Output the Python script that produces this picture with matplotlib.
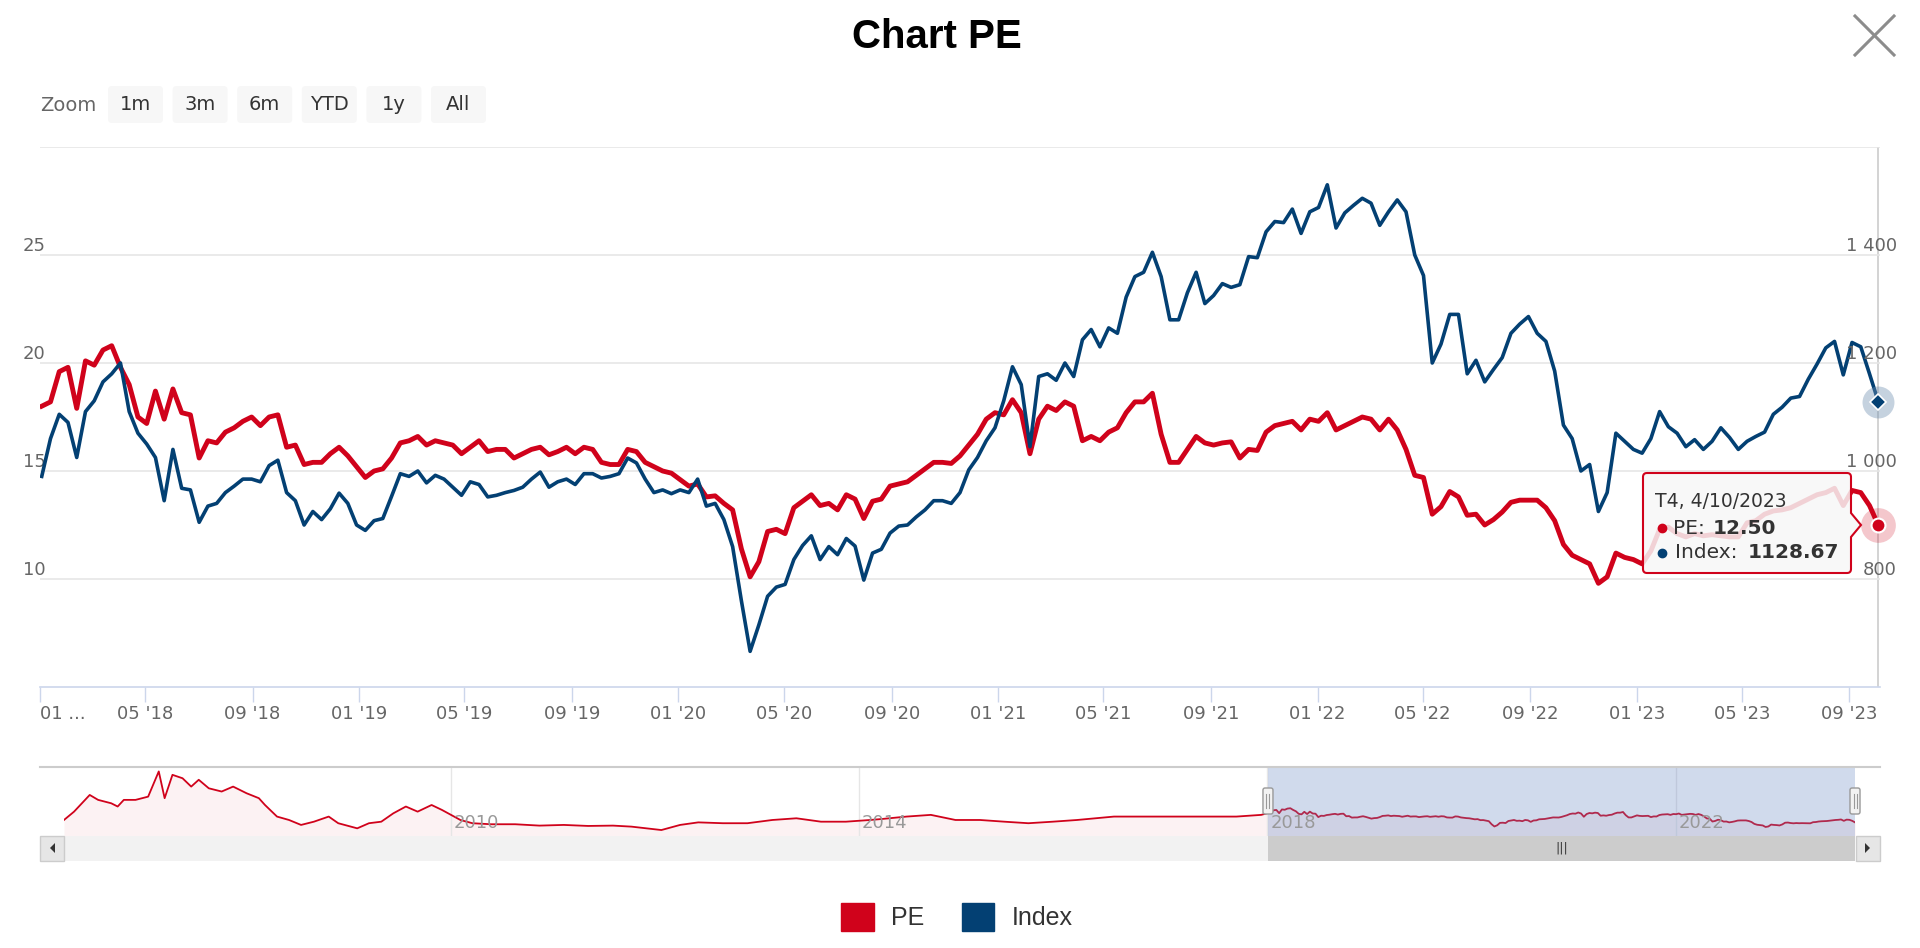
import pandas as pd
import matplotlib
matplotlib.use('Agg')
import matplotlib.pyplot as plt
import matplotlib.transforms as mtransforms
from matplotlib.patches import Patch, FancyBboxPatch, PathPatch, Rectangle, Polygon
from matplotlib.path import Path

# PE and index, one reading every 10 days from 03/01/2018 to 04/10/2023
dates = pd.date_range('2018-01-03', '2023-10-04', freq='10D')

pe = [
    18.0, 18.2, 19.6, 19.8, 17.9, 20.1, 19.9, 20.6, 20.8, 19.8,
    19.0, 17.5, 17.2, 18.7, 17.4, 18.8, 17.7, 17.6, 15.6, 16.4,
    16.3, 16.8, 17.0, 17.3, 17.5, 17.1, 17.5, 17.6, 16.1, 16.2,
    15.3, 15.4, 15.4, 15.8, 16.1, 15.7, 15.2, 14.7, 15.0, 15.1,
    15.6, 16.3, 16.4, 16.6, 16.2, 16.4, 16.3, 16.2, 15.8, 16.1,
    16.4, 15.9, 16.0, 16.0, 15.6, 15.8, 16.0, 16.1, 15.75, 15.9,
    16.1, 15.8, 16.1, 16.0, 15.4, 15.3, 15.3, 16.0, 15.9, 15.4,
    15.2, 15.0, 14.9, 14.6, 14.3, 14.4, 13.8, 13.85, 13.5, 13.2,
    11.4, 10.1, 10.8, 12.2, 12.3, 12.1, 13.3, 13.6, 13.9, 13.4,
    13.5, 13.2, 13.9, 13.7, 12.8, 13.6, 13.7, 14.3, 14.4, 14.5,
    14.8, 15.1, 15.4, 15.4, 15.35, 15.7, 16.2, 16.7, 17.4, 17.7,
    17.6, 18.3, 17.7, 15.8, 17.4, 18.0, 17.8, 18.2, 18.0, 16.4,
    16.6, 16.4, 16.8, 17.0, 17.7, 18.2, 18.2, 18.6, 16.7, 15.4,
    15.4, 16.0, 16.6, 16.3, 16.2, 16.3, 16.35, 15.6, 16.0, 15.95,
    16.8, 17.1, 17.2, 17.3, 16.9, 17.4, 17.3, 17.7, 16.9, 17.1,
    17.3, 17.5, 17.4, 16.9, 17.4, 16.9, 16.0, 14.8, 14.7, 13.0,
    13.35, 14.05, 13.8, 12.95, 13.0, 12.5, 12.75, 13.1, 13.55, 13.65,
    13.65, 13.65, 13.3, 12.7, 11.6, 11.1, 10.9, 10.7, 9.8, 10.1,
    11.2, 11.0, 10.9, 10.7, 11.3, 12.3, 12.4, 12.1, 11.95, 12.1,
    12.0, 12.05, 12.0, 11.95, 11.95, 12.6, 12.7, 13.0, 13.15, 13.2,
    13.3, 13.5, 13.7, 13.9, 14.0, 14.2, 13.4, 14.1, 14.0, 13.4, 12.50,
]

index = [
    990, 1060, 1105, 1090, 1025, 1110, 1130, 1165, 1180, 1200,
    1110, 1070, 1050, 1025, 945, 1040, 968, 965, 905, 935,
    940, 960, 972, 985, 985, 980, 1010, 1020, 960, 945,
    900, 925, 910, 930, 959, 940, 900, 890, 908, 912,
    953, 995, 990, 1000, 978, 992, 985, 970, 955, 980,
    975, 952, 955, 960, 964, 970, 985, 998, 970, 980,
    985, 975, 995, 995, 987, 990, 995, 1024, 1015, 985,
    960, 965, 958, 965, 960, 985, 935, 940, 910, 860,
    760, 666, 715, 768, 785, 790, 836, 862, 880, 836,
    860, 845, 875, 861, 798, 848, 855, 885, 898, 900,
    915, 928, 945, 945, 940, 960, 1002, 1025, 1056, 1080,
    1130, 1193, 1160, 1045, 1175, 1180, 1168, 1200, 1175, 1243,
    1262, 1230, 1265, 1255, 1322, 1360, 1368, 1405, 1360, 1280,
    1280, 1330, 1368, 1310, 1325, 1347, 1340, 1345, 1397, 1395,
    1443, 1462, 1460, 1485, 1440, 1480, 1488, 1530, 1450, 1478,
    1492, 1505, 1496, 1455, 1480, 1502, 1480, 1400, 1362, 1200,
    1235, 1290, 1290, 1180, 1205, 1165, 1188, 1210, 1255, 1272,
    1286, 1255, 1240, 1185, 1085, 1060, 1000, 1012, 925, 960,
    1070, 1055, 1040, 1033, 1060, 1110, 1082, 1070, 1045, 1058,
    1040, 1055, 1080, 1062, 1040, 1055, 1064, 1072, 1105, 1118,
    1135, 1138, 1170, 1198, 1228, 1240, 1178, 1238, 1230, 1180, 1128.67,
]

# older PE history, only shown in the navigator
hist_dates = pd.to_datetime([
    '2006-03-20', '2006-04-25', '2006-06-20', '2006-07-20', '2006-09-05', '2006-09-28',
    '2006-10-20', '2006-12-01', '2007-01-15', '2007-02-22', '2007-03-15', '2007-04-12',
    '2007-05-18', '2007-06-18', '2007-07-15', '2007-08-20', '2007-10-05', '2007-11-15',
    '2008-01-02', '2008-02-15', '2008-03-08', '2008-04-20', '2008-06-02', '2008-07-15',
    '2008-08-30', '2008-10-22', '2008-11-25', '2009-02-01', '2009-03-15', '2009-04-28',
    '2009-06-10', '2009-07-25', '2009-09-05', '2009-10-25', '2009-12-01', '2010-02-05',
    '2010-03-20', '2010-05-25', '2010-08-20', '2010-11-15', '2011-02-10', '2011-05-08',
    '2011-08-05', '2011-10-10', '2012-01-25', '2012-04-01', '2012-06-05', '2012-09-01',
    '2012-11-28', '2013-02-25', '2013-05-22', '2013-08-18', '2013-11-15', '2014-02-10',
    '2014-03-25', '2014-06-20', '2014-09-15', '2014-12-12', '2015-03-10', '2015-06-05',
    '2015-08-30', '2015-11-25', '2016-02-20', '2016-07-01', '2016-09-28', '2016-12-25',
    '2017-03-20', '2017-06-18', '2017-09-12', '2017-12-10',
])
hist_pe = [
    13.9, 18.8, 28.6, 25.7, 23.7, 21.8,
    25.7, 25.7, 27.6, 42.4, 26.7, 40.4,
    38.4, 33.5, 37.5, 32.5, 30.6, 33.5,
    29.6, 26.7, 22.7, 15.9, 13.9, 11.0,
    12.9, 15.9, 12.0, 9.0, 12.0, 12.9,
    17.8, 21.8, 18.8, 22.7, 19.8, 13.9,
    12.0, 11.4, 11.4, 10.6, 11.0, 10.4,
    10.6, 10.0, 8.0, 11.0, 12.5, 12.0,
    12.0, 13.9, 14.9, 12.9, 12.9, 13.9,
    14.5, 15.9, 16.9, 13.9, 13.9, 12.9,
    12.0, 12.9, 13.9, 15.9, 15.9, 15.9,
    15.9, 15.9, 15.9, 16.9,
]

tick_dates = pd.date_range('2018-01-01', '2023-09-01', freq='4MS')
tick_labels = ["01 ...", "05 '18", "09 '18", "01 '19", "05 '19", "09 '19",
               "01 '20", "05 '20", "09 '20", "01 '21", "05 '21", "09 '21",
               "01 '22", "05 '22", "09 '22", "01 '23", "05 '23", "09 '23"]
pe_ticks = [10, 15, 20, 25]
index_ticks = [800, 1000, 1200, 1400]
nav_years = ['2010', '2014', '2018', '2022']
zoom_buttons = ['1m', '3m', '6m', 'YTD', '1y', 'All']

RED = '#d0021b'
BLUE = '#034073'
W, H = 1920, 948

fig = plt.figure(figsize=(W / 100, H / 100), dpi=100)
fig.patch.set_facecolor('white')

# main chart
ax = fig.add_axes([40 / W, 1 - 687 / H, 1840 / W, 540 / H])
x_start = pd.Timestamp('2018-01-01')
ax.set_xlim(x_start, x_start + pd.Timedelta(days=2104))
ax.set_ylim(5, 30)
ax.set_yticks(pe_ticks + [30])
ax.tick_params(axis='y', length=0, labelleft=False)
ax.grid(axis='y', color='#e6e6e6', lw=1.2)
for s in ['top', 'left', 'right']:
    ax.spines[s].set_visible(False)
ax.spines['bottom'].set_color('#ccd6eb')
ax.spines['bottom'].set_linewidth(1.2)
ax.set_xticks(tick_dates)
ax.set_xticklabels(tick_labels)
ax.tick_params(axis='x', length=11, width=1, color='#ccd6eb', labelcolor='#666666',
               labelsize=13, pad=2)
ax.get_xticklabels()[0].set_ha('left')

ax.axvline(dates[-1], color='#cccccc', lw=1.2, zorder=1)
ax.plot(dates, pe, color=RED, lw=3.5, solid_joinstyle='round', zorder=3)
ax.plot(dates[-1], pe[-1], 'o', ms=25, color=RED, alpha=0.22, mec='none', clip_on=False, zorder=4)
ax.plot(dates[-1], pe[-1], 'o', ms=10, color=RED, mec='white', mew=1.5, clip_on=False, zorder=5)

ax2 = ax.twinx()
ax2.set_ylim(600, 1600)
ax2.set_yticks([])
for s in ax2.spines.values():
    s.set_visible(False)
ax2.plot(dates, index, color=BLUE, lw=2.6, solid_joinstyle='round', zorder=3)
ax2.plot(dates[-1], index[-1], 'o', ms=23, color='#6f8fb0', alpha=0.4, mec='none', clip_on=False, zorder=4)
ax2.plot(dates[-1], index[-1], 'D', ms=8.5, color=BLUE, mec='white', mew=1.2, clip_on=False, zorder=5)

left_tr = mtransforms.offset_copy(ax.get_yaxis_transform(), fig=fig, y=4, units='dots')
for v in pe_ticks:
    ax.text(-17 / 1840, v, str(v), transform=left_tr, ha='left', va='baseline',
            fontsize=13, color='#666666')
right_tr = mtransforms.offset_copy(ax2.get_yaxis_transform(), fig=fig, y=4, units='dots')
for v in index_ticks:
    ax2.text(1 + 17 / 1840, v, f'{v:,}'.replace(',', ' '), transform=right_tr, ha='right',
             va='baseline', fontsize=13, color='#666666', zorder=6)

# navigator
nav_dates = hist_dates.append(dates)
nav_pe = hist_pe + pe
nav = fig.add_axes([64 / W, 1 - 836 / H, 1791 / W, 69 / H])
nav.set_xlim(nav_dates[0], dates[-1])
nav.set_ylim(4.5, 45)
nav.fill_between(nav_dates, nav_pe, 4.5, color=RED, alpha=0.05, lw=0)
nav.plot(nav_dates, nav_pe, color=RED, lw=1.3, zorder=2)
nav.axvspan(dates[0], dates[-1], color='#6685c2', alpha=0.3, lw=0, zorder=3)
nav.set_xticks(pd.to_datetime([y + '-01-01' for y in nav_years]))
nav.grid(axis='x', color='#e6e6e6', lw=1)
nav.tick_params(length=0, labelbottom=False, labelleft=False)
nav.set_yticks([])
for s in nav.spines.values():
    s.set_visible(False)
year_tr = mtransforms.offset_copy(nav.get_xaxis_transform(), fig=fig, x=3, units='dots')
for y in nav_years:
    nav.text(pd.Timestamp(y + '-01-01'), 0.19, y, transform=year_tr, ha='left', va='center',
             fontsize=13, color='#999999', zorder=4)

# scrollbar
sb = fig.add_axes([64 / W, 1 - 861 / H, 1791 / W, 25 / H])
sb.set_xlim(nav_dates[0], dates[-1])
sb.set_ylim(0, 1)
sb.set_facecolor('#f2f2f2')
sb.axvspan(dates[0], dates[-1], color='#cccccc', lw=0)
sb.text(dates[0] + (dates[-1] - dates[0]) / 2, 0.5, '|||', ha='center', va='center',
        fontsize=9, color='#333333')
sb.set_xticks([])
sb.set_yticks([])
for s in sb.spines.values():
    s.set_visible(False)

# overlay for title, range selector, tooltip and other chrome (pixel coordinates)
ov = fig.add_axes([0, 0, 1, 1], zorder=10)
ov.set_xlim(0, W)
ov.set_ylim(H, 0)
ov.axis('off')

ov.text(937, 37, 'Chart PE', ha='center', va='center', fontsize=29, fontweight='bold',
        family='Liberation Sans', color='#000000')
ov.plot([1855, 1894], [16, 55], color='#8c8c8c', lw=2.2)
ov.plot([1855, 1894], [55, 16], color='#8c8c8c', lw=2.2)

ov.text(40, 105, 'Zoom', ha='left', va='center', fontsize=14, color='#666666')
for i, lab in enumerate(zoom_buttons):
    bx = 108 + i * 64.6
    ov.add_patch(FancyBboxPatch((bx, 86), 55, 37, boxstyle='round,pad=0,rounding_size=4',
                                fc='#f7f7f7', ec='none'))
    ov.text(bx + 27.5, 104.5, lab, ha='center', va='center', fontsize=14, color='#333333')

# navigator top line, handles and scrollbar buttons
ov.plot([40, 1880], [767, 767], color='#cccccc', lw=1.5)
sel_px = [nav.transData.transform((nav.convert_xunits(d), 0))[0] for d in (dates[0], dates[-1])]
for px in sel_px:
    ov.add_patch(FancyBboxPatch((px - 5, 788), 10, 26, boxstyle='round,pad=0,rounding_size=2',
                                fc='#f2f2f2', ec='#999999', lw=1))
    ov.plot([px - 1.5, px - 1.5], [794, 808], color='#999999', lw=0.8)
    ov.plot([px + 1.5, px + 1.5], [794, 808], color='#999999', lw=0.8)
for bx, tri in [(40, [(55, 843), (55, 853), (50, 848)]), (1856, [(1865, 843), (1865, 853), (1870, 848)])]:
    ov.add_patch(Rectangle((bx, 836), 24, 25, fc='#e6e6e6', ec='#cccccc', lw=1))
    ov.add_patch(Polygon(tri, closed=True, fc='#333333', ec='none'))

# tooltip
x0, x1, y0, y1, r, tip = 1643, 1851, 473, 573, 4, 525
verts = [(x0 + r, y0), (x1 - r, y0), (x1, y0), (x1, y0 + r), (x1, tip - 12), (x1 + 10, tip),
         (x1, tip + 12), (x1, y1 - r), (x1, y1), (x1 - r, y1), (x0 + r, y1), (x0, y1),
         (x0, y1 - r), (x0, y0 + r), (x0, y0), (x0 + r, y0)]
codes = [Path.MOVETO, Path.LINETO, Path.CURVE3, Path.CURVE3, Path.LINETO, Path.LINETO,
         Path.LINETO, Path.LINETO, Path.CURVE3, Path.CURVE3, Path.LINETO, Path.CURVE3,
         Path.CURVE3, Path.LINETO, Path.CURVE3, Path.CURVE3]
ov.add_patch(PathPatch(Path(verts, codes), fc=(0.97, 0.97, 0.97, 0.85), ec=RED, lw=1.5))

last = dates[-1]
wd = last.weekday()
day_name = 'CN' if wd == 6 else f'T{wd + 2}'
ov.text(1655, 501, f'{day_name}, {last.day}/{last.month}/{last.year}', ha='left', va='center',
        fontsize=13.5, color='#333333')
ov.plot(1662, 528, 'o', ms=6, color=RED)
ov.text(1673, 528, 'PE:', ha='left', va='center', fontsize=14.5, color='#333333')
ov.text(1713, 528, f'{pe[-1]:.2f}', ha='left', va='center', fontsize=14.5, fontweight='bold',
        color='#333333')
ov.plot(1662, 553, 'o', ms=6, color=BLUE)
ov.text(1675, 553, 'Index:', ha='left', va='center', fontsize=14.5, color='#333333')
ov.text(1748, 553, f'{index[-1]:.2f}', ha='left', va='center', fontsize=14.5,
        fontweight='bold', color='#333333')

fig.legend(handles=[Patch(color=RED, label='PE'), Patch(color=BLUE, label='Index')],
           loc='center', bbox_to_anchor=(957 / W, 1 - 917 / H), ncol=2, frameon=False,
           prop={'family': 'Liberation Sans', 'size': 18}, labelcolor='#333333',
           handlelength=1.3, handleheight=1.3, handletextpad=0.7, columnspacing=1.5)

plt.savefig('out.png', dpi=100)
